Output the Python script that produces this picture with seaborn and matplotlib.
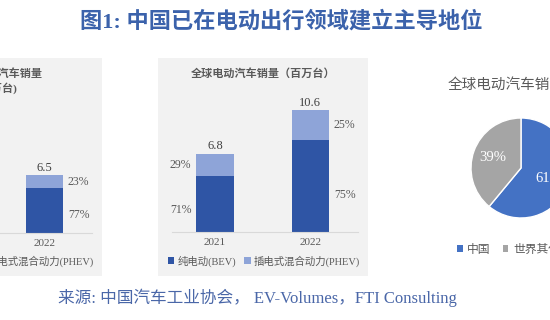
import matplotlib
matplotlib.use("Agg")
import matplotlib.pyplot as plt
from matplotlib.patches import Rectangle, Patch
import seaborn as sns
import pandas as pd

# ---------------- data ----------------
china_years = ["2022"]
china_total = [6.5]
china_bev_pct = [77]
china_phev_pct = [23]

world_years = ["2021", "2022"]
world_total = [6.8, 10.6]
world_bev_pct = [71, 75]
world_phev_pct = [29, 25]

pie_labels = ["中国", "世界其他"]
pie_shares = [61, 39]

series_names = ["纯电动(BEV)", "插电式混合动力(PHEV)"]

title = "图1: 中国已在电动出行领域建立主导地位"
source = "来源: 中国汽车工业协会， EV-Volumes，FTI Consulting"

# ---------------- style ----------------
sns.set_theme(style="white")
FONTS = ["Liberation Serif", "Noto Sans CJK SC", "DejaVu Sans"]
plt.rcParams["font.family"] = FONTS
plt.rcParams["axes.unicode_minus"] = False

DARK = "#2f55a5"
LIGHT = "#8ea4d8"
PIE_BLUE = "#4472c4"
PIE_GRAY = "#a5a5a5"
TXT = "#595959"
PANEL = "#f2f2f2"

W, H = 550, 320
fig = plt.figure(figsize=(5.5, 3.2), dpi=100)
fig.patch.set_facecolor("white")


def fx(x):
    return x / W


def fy(y):
    return 1 - y / H


def box(x0, y0, x1, y1):
    return [fx(x0), fy(y1), (x1 - x0) / W, (y1 - y0) / H]


# panel backgrounds
for x0, x1 in [(-108, 102), (158, 368)]:
    fig.patches.append(Rectangle((fx(x0), fy(276)), (x1 - x0) / W, (276 - 58) / H,
                                 transform=fig.transFigure, facecolor=PANEL,
                                 edgecolor="none", zorder=-5))


def stacked(ax, years, totals, bev_pct, phev_pct, label_side, ymax, xlim):
    bev = [t * b / 100 for t, b in zip(totals, bev_pct)]
    df_tot = pd.DataFrame({"year": years, "v": totals})
    df_bev = pd.DataFrame({"year": years, "v": bev})
    sns.barplot(data=df_tot, x="year", y="v", order=years, color=LIGHT,
                width=0.39, saturation=1, ax=ax, edgecolor="none")
    sns.barplot(data=df_bev, x="year", y="v", order=years, color=DARK,
                width=0.39, saturation=1, ax=ax, edgecolor="none")
    ax.set_facecolor("none")
    ax.set_ylim(0, ymax)
    ax.set_xlim(*xlim)
    ax.set_xlabel("")
    ax.set_ylabel("")
    ax.set_yticks([])
    for s in ["top", "left", "right"]:
        ax.spines[s].set_visible(False)
    ax.spines["bottom"].set_color("#d9d9d9")
    ax.spines["bottom"].set_linewidth(0.8)
    ax.tick_params(axis="x", length=0, pad=4, labelsize=8, labelcolor=TXT)
    for i, (t, b, bp, pp) in enumerate(zip(totals, bev, bev_pct, phev_pct)):
        ax.text(i, t + ymax * 0.01, f"{t}", ha="center", va="bottom",
                fontsize=9, color="#404040")
        side = label_side[i]
        xo = i + side * 0.36
        ax.text(xo, b * 0.4, f"{bp}%", ha="center", va="center", fontsize=8.5, color=TXT)
        ax.text(xo, b + (t - b) / 2, f"{pp}%", ha="center", va="center",
                fontsize=8.5, color=TXT)


# left (cropped) panel: China
axL = fig.add_axes(box(-94, 95, 92, 233))
stacked(axL, china_years, china_total, china_bev_pct, china_phev_pct,
        label_side=[1], ymax=15.5, xlim=(-1.45, 0.5))

# middle panel: world
axM = fig.add_axes(box(172, 95, 358, 232))
stacked(axM, world_years, world_total, world_bev_pct, world_phev_pct,
        label_side=[-1, 1], ymax=11.9, xlim=(-0.45, 1.5))

# panel titles
fig.text(fx(263), fy(73), "全球电动汽车销量（百万台）", ha="center", va="center",
         fontsize=8, fontweight="bold", color=TXT)
fig.text(fx(-3), fy(73), "中国电动汽车销量", ha="center", va="center",
         fontsize=8, fontweight="bold", color=TXT)
fig.text(fx(-3), fy(88), "(百万台)", ha="center", va="center",
         fontsize=8, fontweight="bold", color=TXT)

# bar legends
handles = [Patch(facecolor=DARK, edgecolor="none"), Patch(facecolor=LIGHT, edgecolor="none")]
for xc in [264, -2]:
    fig.legend(handles, series_names, loc="center", bbox_to_anchor=(fx(xc), fy(261)),
               ncol=2, frameon=False, fontsize=7.5, handlelength=0.6, handleheight=0.6,
               handletextpad=0.3, columnspacing=0.8, labelcolor=TXT)

# pie panel
axP = fig.add_axes(box(471, 118, 571, 218))
wedges, texts, autotexts = axP.pie(
    pie_shares, colors=[PIE_BLUE, PIE_GRAY], startangle=90, counterclock=False,
    autopct=lambda p: f"{p:.0f}%", pctdistance=0.6,
    wedgeprops=dict(edgecolor="white", linewidth=1.0),
    textprops=dict(color="white", fontsize=10.5))
axP.set_xlim(-1, 1)
axP.set_ylim(-1, 1)
axP.set_aspect("equal")
axP.axis("off")

fig.text(fx(448), fy(85), "全球电动汽车销量占比", ha="left", va="center",
         fontsize=10.5, color=TXT)
fig.legend([Patch(facecolor=PIE_BLUE, edgecolor="none"), Patch(facecolor=PIE_GRAY, edgecolor="none")],
           pie_labels, loc="center left", bbox_to_anchor=(fx(446), fy(250)),
           ncol=2, frameon=False, fontsize=8.5, handlelength=0.5, handleheight=0.5,
           handletextpad=0.4, columnspacing=1.0, labelcolor=TXT)

# title and source
fig.text(fx(281), fy(22), title, ha="center", va="center", fontsize=16,
         fontweight="bold", color="#3b62ab")
fig.text(fx(58), fy(298), source, ha="left", va="center", fontsize=12,
         color="#4a67a8")

fig.savefig("out.png", dpi=100, facecolor="white")
